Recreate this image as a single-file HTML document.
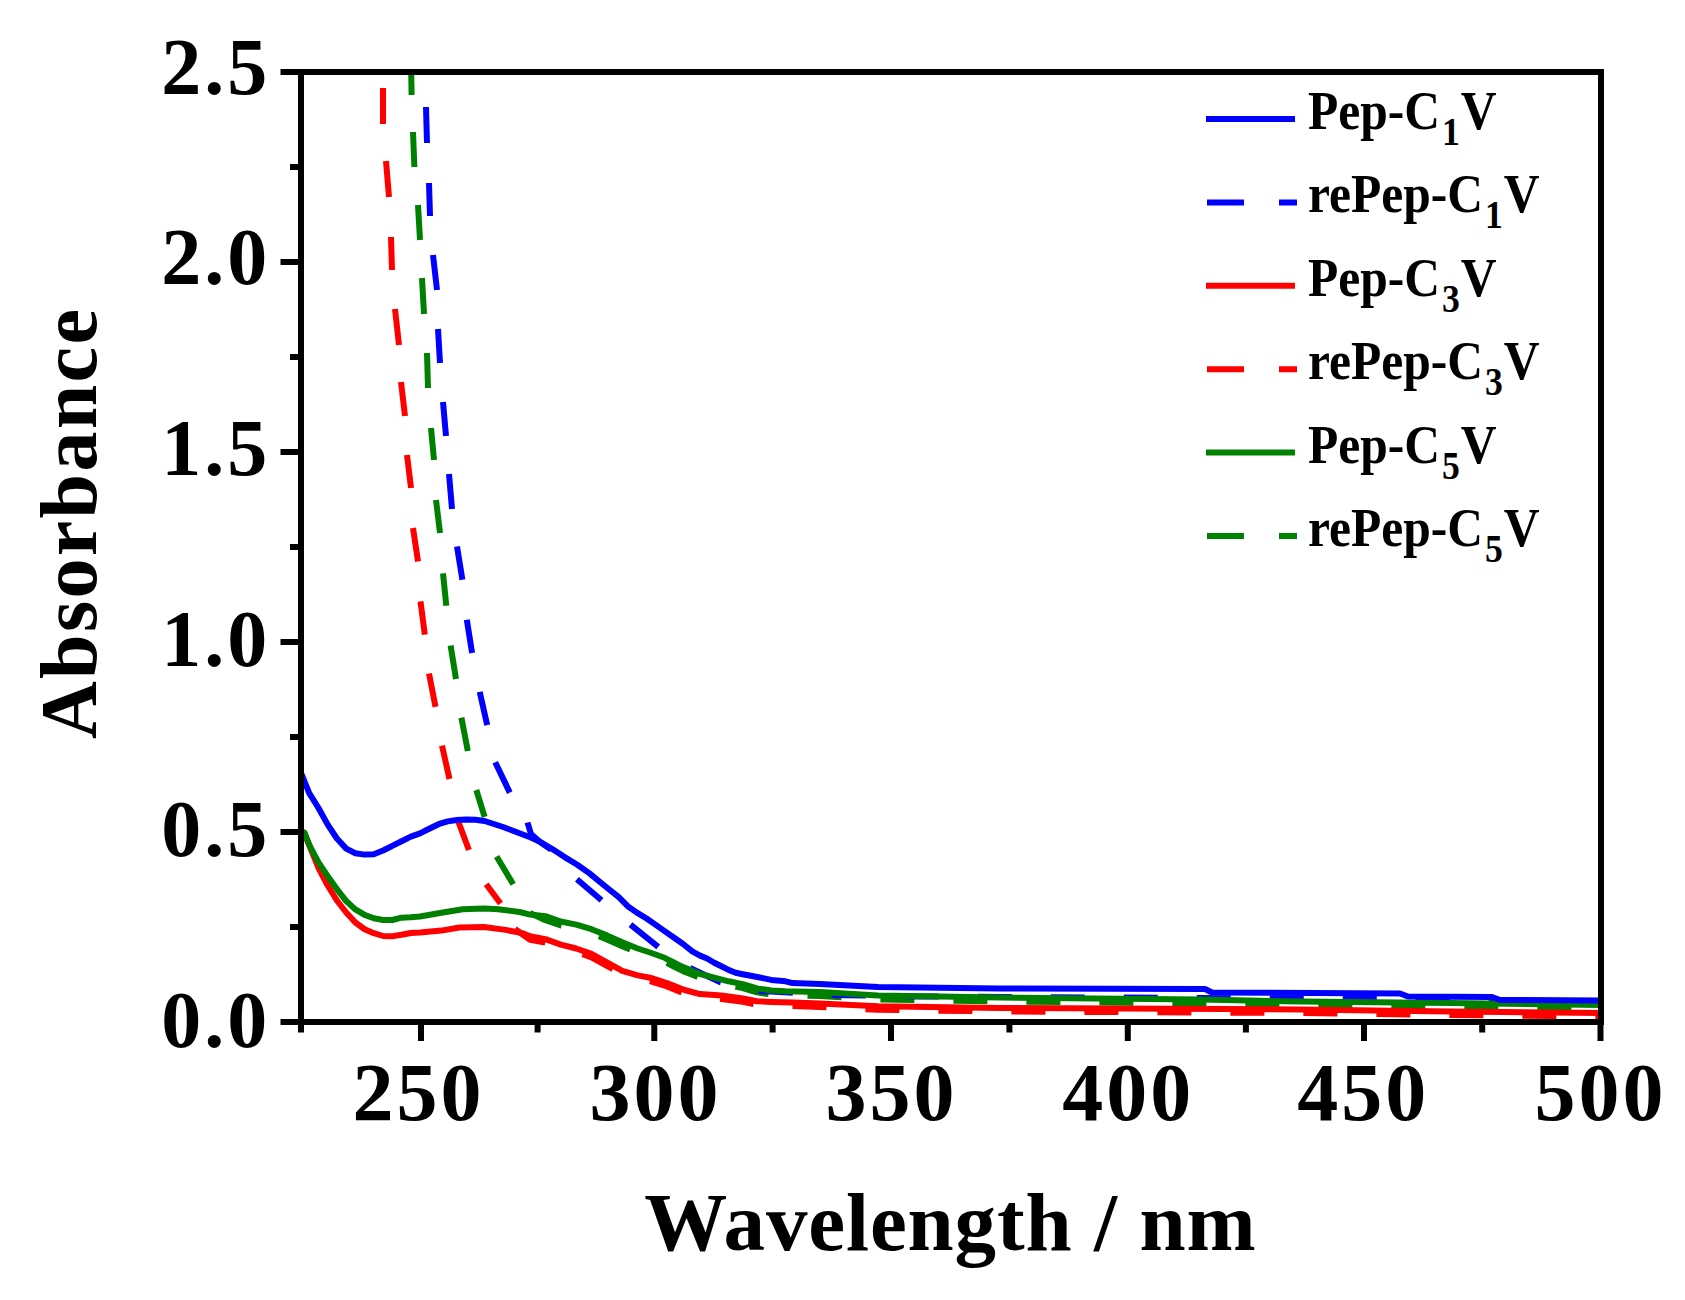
<!DOCTYPE html>
<html><head><meta charset="utf-8"><title>Absorbance spectra</title>
<style>html,body{margin:0;padding:0;background:#fff;width:1685px;height:1300px;overflow:hidden}svg{display:block}</style>
</head><body>
<svg width="1685" height="1300" viewBox="0 0 1685 1300"><rect x="0" y="0" width="1685" height="1300" fill="#fff"/><defs><clipPath id="pc"><rect x="301" y="72" width="1300" height="950"/></clipPath></defs><g clip-path="url(#pc)" fill="none" stroke-width="6" stroke-linejoin="round"><path d="M383.0,88.0 L383.0,124.0 M386.0,161.0 L389.0,197.0 M391.0,237.0 L392.0,270.0 M395.0,309.0 L399.0,345.0 M401.0,382.0 L405.0,416.0 M407.0,455.0 L411.0,488.0 M413.0,528.0 L418.0,561.5 M420.5,601.4 L424.8,634.7 M429.0,673.5 L435.5,706.9 M442.0,745.6 L449.5,779.0 M456.9,817.7 L468.9,850.0 M486.2,884.3 L500.5,903.5" stroke="#ff0000"/><path d="M411.0,60.0 L411.6,95.0 M413.0,132.0 L414.4,167.0 M418.0,205.0 L420.0,240.0 M422.0,278.0 L424.0,314.0 M427.0,353.0 L428.0,388.0 M431.0,428.0 L434.0,460.0 M436.0,500.0 L440.0,533.0 M443.0,573.4 L446.3,605.7 M450.6,645.5 L456.0,678.9 M461.4,717.6 L467.8,751.0 M476.3,790.0 L484.6,816.8 M496.6,856.5 L513.2,884.2" stroke="#008000"/><path d="M426.0,107.0 L427.0,143.0 M429.0,183.0 L430.0,216.0 M433.0,255.0 L437.0,290.0 M438.0,329.0 L440.0,363.0 M443.0,402.0 L446.0,436.0 M449.0,474.0 L452.0,509.0 M457.0,546.5 L462.4,579.8 M466.8,619.7 L472.1,653.0 M479.7,691.8 L487.2,725.2 M495.2,762.2 L509.8,792.6 M527.5,822.5 L531.0,834.0 L540.0,842.0 L551.0,849.5 M576.9,879.2 L601.5,900.2 M630.5,924.6 L658.2,946.8" stroke="#0000ff"/><path d="M515.0,929.0 L530.0,939.7 L545.4,942.7 L560.8,948.1 L576.2,952.0 L591.5,957.3 L606.9,965.8 L622.3,974.3 L637.7,978.9 L650.0,981.2 L666.9,986.5 L684.6,993.5 L700.0,997.6 L721.4,999.0 L742.7,1001.9 L757.0,1004.7 L771.2,1005.4 L792.6,1006.1 L820.0,1006.9 L878.0,1009.8 L1000.0,1011.5 L1300.0,1013.0 L1450.0,1015.0 L1605.0,1016.5" stroke="#ff0000" stroke-dasharray="34 39"/><path d="M530.0,913.0 L545.4,920.2 L560.8,925.5 L576.2,928.6 L591.5,933.2 L606.9,939.4 L622.3,946.3 L637.7,952.5 L650.0,956.5 L664.6,961.8 L673.8,966.5 L683.1,971.1 L692.3,974.8 L700.0,978.0 L714.2,981.7 L728.5,985.3 L742.7,988.1 L757.0,992.4 L771.2,994.5 L785.5,995.3 L820.0,996.0 L878.0,999.5 L1000.0,1001.5 L1200.0,1003.5 L1300.0,1005.5 L1450.0,1007.0 L1605.0,1009.0" stroke="#008000" stroke-dasharray="34 39"/><path d="M690.0,968.0 L720.0,982.0 L760.0,991.0 L830.0,995.0 L920.0,996.5 L1000.0,997.0 L1200.0,998.0 L1400.0,999.0 L1605.0,1002.0" stroke="#0000ff" stroke-dasharray="34 39"/><path d="M298.0,828.0 L301.0,831.0 L304.6,834.0 L309.2,845.0 L318.5,868.0 L327.7,885.5 L336.9,900.5 L346.2,912.5 L355.4,922.5 L364.6,929.2 L373.8,933.2 L383.1,936.0 L392.3,936.2 L401.5,934.8 L410.8,933.0 L420.0,932.5 L441.4,930.6 L459.2,927.5 L484.1,927.0 L505.5,929.9 L523.3,933.4 L530.0,936.2 L545.4,939.2 L560.8,944.6 L576.2,948.5 L591.5,953.8 L606.9,962.3 L622.3,970.8 L637.7,975.4 L650.0,977.7 L666.9,983.0 L684.6,990.0 L700.0,994.1 L721.4,995.5 L742.7,998.4 L757.0,1001.2 L771.2,1001.9 L792.6,1002.6 L820.0,1003.4 L878.0,1006.3 L1000.0,1008.0 L1300.0,1009.5 L1450.0,1011.5 L1605.0,1013.0" stroke="#ff0000"/><path d="M298.0,828.0 L301.0,831.0 L304.6,832.8 L309.2,844.8 L318.5,862.3 L327.7,876.2 L336.9,889.1 L346.2,901.1 L355.4,909.4 L364.6,914.9 L373.8,918.2 L383.1,920.0 L392.3,920.0 L401.5,917.7 L410.8,917.2 L420.0,916.5 L441.4,912.8 L462.7,909.2 L484.1,908.5 L498.3,909.2 L519.7,912.0 L530.0,914.6 L545.4,916.2 L560.8,921.5 L576.2,924.6 L591.5,929.2 L606.9,935.4 L622.3,942.3 L637.7,948.5 L650.0,952.5 L664.6,957.8 L673.8,962.5 L683.1,967.1 L692.3,970.8 L700.0,974.0 L714.2,977.7 L728.5,981.3 L742.7,984.1 L757.0,988.4 L771.2,990.5 L785.5,991.3 L820.0,992.0 L878.0,995.5 L1000.0,997.5 L1200.0,999.5 L1300.0,1001.5 L1450.0,1003.0 L1605.0,1005.0" stroke="#008000"/><path d="M298.0,768.0 L301.8,774.8 L309.2,793.2 L318.5,808.0 L327.7,824.6 L336.9,838.5 L346.2,848.6 L355.4,853.2 L364.6,854.6 L373.8,854.2 L383.1,850.5 L392.3,845.8 L401.5,841.2 L410.8,836.6 L420.0,833.4 L429.2,828.8 L438.5,824.2 L447.7,821.4 L456.9,820.0 L466.2,819.5 L475.4,819.7 L484.6,821.0 L493.8,824.0 L503.1,827.0 L512.3,830.5 L521.5,834.0 L530.8,837.5 L540.0,841.7 L552.3,849.1 L564.6,857.1 L576.9,864.5 L589.2,873.1 L600.0,882.0 L609.2,889.5 L618.5,896.9 L627.7,906.2 L636.9,912.6 L646.2,918.2 L655.4,924.6 L664.6,931.1 L673.8,937.5 L683.1,944.0 L692.3,951.4 L700.0,955.6 L707.1,958.5 L714.2,962.8 L721.4,966.3 L728.5,969.9 L735.6,972.7 L742.7,974.2 L753.4,976.3 L764.1,978.4 L771.2,979.9 L785.5,981.3 L792.6,983.1 L820.0,984.1 L878.0,987.0 L1000.0,988.5 L1205.0,989.0 L1212.0,992.5 L1400.0,993.5 L1408.0,996.5 L1492.0,997.0 L1500.0,1000.0 L1605.0,1000.5" stroke="#0000ff"/></g><rect x="301" y="72" width="1300" height="950" fill="none" stroke="#000" stroke-width="6"/><path d="M280.5,1022.0 H301 M290,927.0 H301 M280.5,832.0 H301 M290,737.0 H301 M280.5,642.0 H301 M290,547.0 H301 M280.5,452.0 H301 M290,357.0 H301 M280.5,262.0 H301 M290,167.0 H301 M280.5,72.0 H301 M301.0,1022 V1032.5 M421.0,1022 V1041 M537.6,1022 V1032.5 M654.3,1022 V1041 M772.6,1022 V1032.5 M891.0,1022 V1041 M1009.4,1022 V1032.5 M1127.8,1022 V1041 M1245.9,1022 V1032.5 M1364.0,1022 V1041 M1482.2,1022 V1032.5 M1600.5,1022 V1041" stroke="#000" stroke-width="6" fill="none"/><g font-family="'Liberation Serif','Times New Roman',serif" font-weight="bold" font-size="80" fill="#000" text-anchor="end"><text x="267.3" y="1047.0" textLength="106" lengthAdjust="spacing">0.0</text><text x="267.3" y="856.3" textLength="106" lengthAdjust="spacing">0.5</text><text x="267.3" y="665.6" textLength="106" lengthAdjust="spacing">1.0</text><text x="267.3" y="474.9" textLength="106" lengthAdjust="spacing">1.5</text><text x="267.3" y="284.2" textLength="106" lengthAdjust="spacing">2.0</text><text x="267.3" y="93.5" textLength="106" lengthAdjust="spacing">2.5</text></g><g font-family="'Liberation Serif','Times New Roman',serif" font-weight="bold" font-size="82" fill="#000" text-anchor="middle"><text x="417.1" y="1120" textLength="129" lengthAdjust="spacing">250</text><text x="653.9" y="1120" textLength="129" lengthAdjust="spacing">300</text><text x="890.1" y="1120" textLength="129" lengthAdjust="spacing">350</text><text x="1126.7" y="1120" textLength="129" lengthAdjust="spacing">400</text><text x="1361.8" y="1120" textLength="129" lengthAdjust="spacing">450</text><text x="1599.0" y="1120" textLength="129" lengthAdjust="spacing">500</text></g><text x="950" y="1249.5" font-family="'Liberation Serif','Times New Roman',serif" font-weight="bold" font-size="83" text-anchor="middle" fill="#000" textLength="611.3" lengthAdjust="spacing">Wavelength / nm</text><text transform="translate(95.5 524) rotate(-90)" x="0" y="0" font-family="'Liberation Serif','Times New Roman',serif" font-weight="bold" font-size="80" text-anchor="middle" fill="#000" textLength="430" lengthAdjust="spacing">Absorbance</text><path d="M1206,119.0 H1295" stroke="#0000ff" stroke-width="6" fill="none"/><text transform="translate(1308 129.0) scale(0.99 1.09)" x="0" y="0" font-family="'Liberation Serif','Times New Roman',serif" font-weight="bold" font-size="50" fill="#000">Pep-C<tspan font-size="36" dx="2" dy="14.7">1</tspan><tspan dx="1" dy="-14.7">V</tspan></text><path d="M1207,202.4 H1244 M1279,202.4 H1297" stroke="#0000ff" stroke-width="6" fill="none"/><text transform="translate(1308 212.4) scale(0.99 1.09)" x="0" y="0" font-family="'Liberation Serif','Times New Roman',serif" font-weight="bold" font-size="50" fill="#000">rePep-C<tspan font-size="36" dx="2" dy="14.7">1</tspan><tspan dx="1" dy="-14.7">V</tspan></text><path d="M1206,285.8 H1295" stroke="#ff0000" stroke-width="6" fill="none"/><text transform="translate(1308 295.8) scale(0.99 1.09)" x="0" y="0" font-family="'Liberation Serif','Times New Roman',serif" font-weight="bold" font-size="50" fill="#000">Pep-C<tspan font-size="36" dx="2" dy="14.7">3</tspan><tspan dx="1" dy="-14.7">V</tspan></text><path d="M1207,369.2 H1244 M1279,369.2 H1297" stroke="#ff0000" stroke-width="6" fill="none"/><text transform="translate(1308 379.2) scale(0.99 1.09)" x="0" y="0" font-family="'Liberation Serif','Times New Roman',serif" font-weight="bold" font-size="50" fill="#000">rePep-C<tspan font-size="36" dx="2" dy="14.7">3</tspan><tspan dx="1" dy="-14.7">V</tspan></text><path d="M1206,452.6 H1295" stroke="#008000" stroke-width="6" fill="none"/><text transform="translate(1308 462.6) scale(0.99 1.09)" x="0" y="0" font-family="'Liberation Serif','Times New Roman',serif" font-weight="bold" font-size="50" fill="#000">Pep-C<tspan font-size="36" dx="2" dy="14.7">5</tspan><tspan dx="1" dy="-14.7">V</tspan></text><path d="M1207,536.0 H1244 M1279,536.0 H1297" stroke="#008000" stroke-width="6" fill="none"/><text transform="translate(1308 546.0) scale(0.99 1.09)" x="0" y="0" font-family="'Liberation Serif','Times New Roman',serif" font-weight="bold" font-size="50" fill="#000">rePep-C<tspan font-size="36" dx="2" dy="14.7">5</tspan><tspan dx="1" dy="-14.7">V</tspan></text></svg>
</body></html>
